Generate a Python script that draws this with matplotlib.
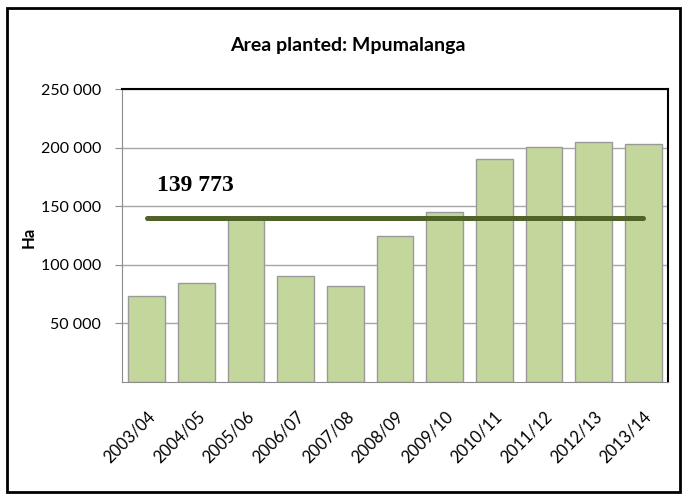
import matplotlib
matplotlib.use("Agg")
import matplotlib.pyplot as plt
from matplotlib.patches import Rectangle
import numpy as np

seasons = ["2003/04", "2004/05", "2005/06", "2006/07", "2007/08", "2008/09",
           "2009/10", "2010/11", "2011/12", "2012/13", "2013/14"]
area_ha = [73600, 84200, 139500, 90400, 82200, 124800,
           145300, 190000, 200200, 204800, 203100]
average_ha = 139773
y_ticks = [50000, 100000, 150000, 200000, 250000]

plt.rcParams["font.family"] = ["Lato", "DejaVu Sans"]

fig = plt.figure(figsize=(6.86, 4.99), dpi=100)
ax = fig.add_axes([122 / 686, 1 - 382 / 499, 546 / 686, 293 / 499])

x = np.arange(len(seasons))
ax.bar(x, area_ha, width=0.74, color="#c3d69b", edgecolor="#9a9a9a",
       linewidth=1.0, zorder=2)
ax.plot([x[0], x[-1]], [average_ha, average_ha], color="#4f6228",
        linewidth=3.6, solid_capstyle="round", zorder=3)
ax.text(0.2, average_ha + 28000, "139 773", family="Liberation Serif",
        fontweight="bold", fontsize=17, ha="left", va="center", zorder=4)

ax.set_xlim(-0.5, len(seasons) - 0.5)
ax.set_ylim(0, 250000)
ax.set_yticks(y_ticks)
ax.set_yticklabels(["{:,}".format(v).replace(",", " ") for v in y_ticks],
                   fontsize=11.5)
ax.yaxis.grid(True, color="#a6a6a6", linewidth=1.0, zorder=0)
ax.set_axisbelow(True)

ax.set_xticks(x)
ax.set_xticklabels(seasons, rotation=45, ha="right", rotation_mode="anchor",
                   fontsize=12)
ax.tick_params(axis="x", length=0, pad=19)
ax.tick_params(axis="y", length=5, color="#8c8c8c", pad=10)

ax.spines["left"].set_color("#8c8c8c")
ax.spines["bottom"].set_color("#8c8c8c")
ax.spines["top"].set_color("black")
ax.spines["right"].set_color("black")
ax.spines["top"].set_linewidth(1.5)
ax.spines["right"].set_linewidth(1.5)

fig.text(29 / 686, 1 - 237 / 499, "Ha", rotation=90, fontweight="bold",
         fontsize=12, ha="center", va="center")
fig.text(348 / 686, 1 - 45 / 499, "Area planted: Mpumalanga",
         fontweight="bold", fontsize=14, ha="center", va="center")

fig.patches.append(Rectangle((7 / 686, 1 - 492 / 499), 673 / 686, 484 / 499,
                             transform=fig.transFigure, fill=False,
                             edgecolor="black", linewidth=2))

fig.savefig("out.png", dpi=100)
